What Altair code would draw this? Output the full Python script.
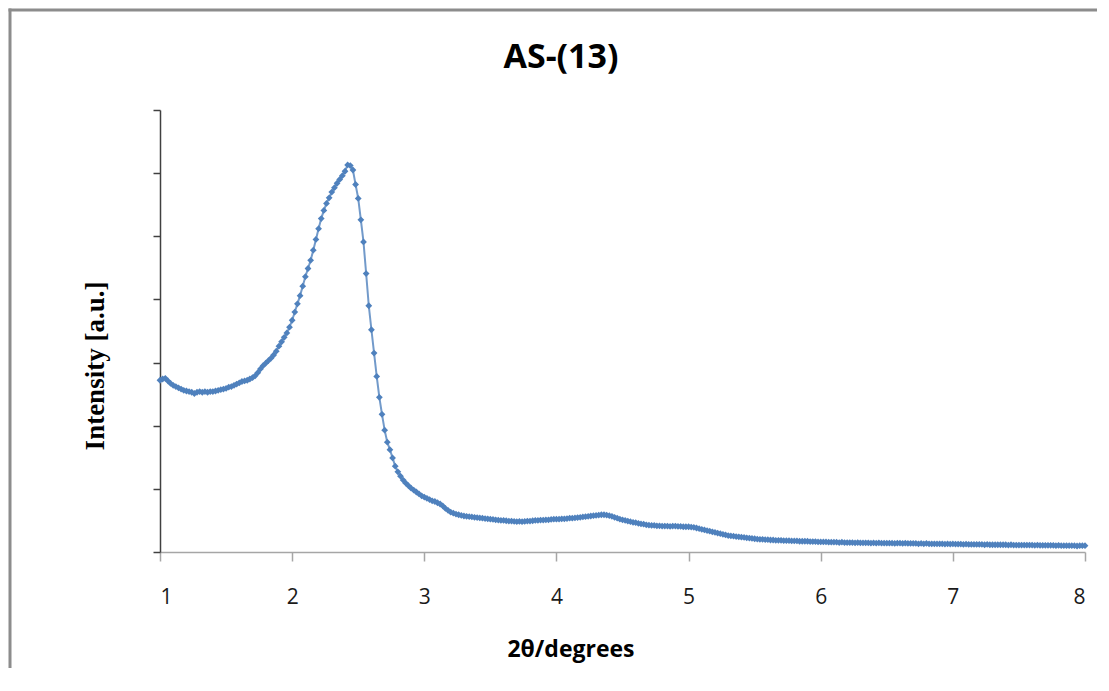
import altair as alt
import pandas as pd

# 2theta sampled every 0.02 degree from 1.00 to 8.00
x_start = 1.00
x_step = 0.02

intensity = [
    2.72, 2.74, 2.75, 2.71, 2.67,
    2.64, 2.62, 2.60, 2.58, 2.56,
    2.55, 2.54, 2.53, 2.51, 2.53,
    2.54, 2.53, 2.54, 2.53, 2.54,
    2.54, 2.55, 2.56, 2.57, 2.58,
    2.59, 2.61, 2.62, 2.64, 2.66,
    2.68, 2.70, 2.71, 2.72, 2.74,
    2.76, 2.79, 2.84, 2.90, 2.95,
    2.99, 3.03, 3.07, 3.12, 3.18,
    3.26, 3.33, 3.40, 3.47, 3.56,
    3.67, 3.80, 3.93, 4.06, 4.21,
    4.36, 4.49, 4.62, 4.78, 4.95,
    5.12, 5.28, 5.41, 5.52, 5.61,
    5.70, 5.77, 5.84, 5.90, 5.96,
    6.03, 6.13, 6.12, 6.05, 5.82,
    5.60, 5.26, 4.91, 4.41, 3.90,
    3.52, 3.15, 2.78, 2.45, 2.18,
    1.93, 1.74, 1.62, 1.49, 1.36,
    1.27, 1.20, 1.14, 1.09, 1.05,
    1.01, 0.98, 0.95, 0.92, 0.89,
    0.87, 0.85, 0.83, 0.81, 0.80,
    0.78, 0.76, 0.73, 0.69, 0.66,
    0.63, 0.615, 0.60, 0.59, 0.58,
    0.57, 0.565, 0.56, 0.555, 0.55,
    0.545, 0.54, 0.535, 0.53, 0.525,
    0.52, 0.515, 0.51, 0.505, 0.50,
    0.50, 0.495, 0.49, 0.49, 0.485,
    0.48, 0.485, 0.48, 0.485, 0.49,
    0.49, 0.495, 0.50, 0.50, 0.505,
    0.505, 0.51, 0.51, 0.515, 0.52,
    0.52, 0.52, 0.525, 0.525, 0.53,
    0.535, 0.535, 0.54, 0.545, 0.55,
    0.555, 0.56, 0.565, 0.57, 0.575,
    0.58, 0.585, 0.59, 0.59, 0.585,
    0.575, 0.565, 0.55, 0.535, 0.52,
    0.51, 0.50, 0.49, 0.48, 0.47,
    0.465, 0.455, 0.445, 0.44, 0.43,
    0.425, 0.42, 0.42, 0.415, 0.415,
    0.41, 0.41, 0.41, 0.405, 0.41,
    0.41, 0.405, 0.405, 0.40, 0.40,
    0.40, 0.395, 0.39, 0.38, 0.37,
    0.36, 0.35, 0.34, 0.33, 0.32,
    0.31, 0.30, 0.29, 0.28, 0.27,
    0.26, 0.255, 0.25, 0.245, 0.24,
    0.235, 0.23, 0.225, 0.22, 0.215,
    0.21, 0.205, 0.20, 0.20, 0.195,
    0.195, 0.19, 0.19, 0.185, 0.185,
    0.185, 0.18, 0.18, 0.18, 0.175,
    0.175, 0.175, 0.17, 0.17, 0.17,
    0.17, 0.165, 0.165, 0.165, 0.16,
    0.16, 0.16, 0.16, 0.155, 0.155,
    0.155, 0.155, 0.15, 0.155, 0.15,
    0.15, 0.15, 0.15, 0.145, 0.15,
    0.145, 0.145, 0.145, 0.145, 0.14,
    0.145, 0.14, 0.145, 0.14, 0.14,
    0.14, 0.14, 0.14, 0.135, 0.14,
    0.14, 0.135, 0.14, 0.135, 0.135,
    0.135, 0.135, 0.13, 0.135, 0.13,
    0.135, 0.13, 0.13, 0.13, 0.13,
    0.13, 0.13, 0.125, 0.13, 0.125,
    0.128, 0.125, 0.125, 0.125, 0.12,
    0.125, 0.12, 0.12, 0.12, 0.12,
    0.12, 0.12, 0.115, 0.12, 0.115,
    0.115, 0.115, 0.115, 0.115, 0.115,
    0.115, 0.11, 0.115, 0.11, 0.11,
    0.11, 0.11, 0.11, 0.11, 0.11,
    0.11, 0.105, 0.11, 0.105, 0.105,
    0.105, 0.105, 0.105, 0.105, 0.10,
    0.105, 0.10, 0.10, 0.10, 0.10,
    0.10, 0.10, 0.095, 0.10, 0.10,
    0.10,
]

x_ticks = [1, 2, 3, 4, 5, 6, 7, 8]
y_ticks = [0, 1, 2, 3, 4, 5, 6, 7]

title_text = "AS-(13)"
x_title = "2θ/degrees"
y_title = "Intensity [a.u.]"

theta = [round(x_start + x_step * i, 2) for i in range(len(intensity))]
df = pd.DataFrame({"theta": theta, "intensity": intensity})

COLOR = "#4F81BD"
W, H = 925, 442

x_enc = alt.X("theta:Q", scale=alt.Scale(domain=[1, 8], nice=False),
              axis=alt.Axis(values=x_ticks, title=None, grid=False, format="d",
                            labelFont="Open Sans", labelFontSize=21, labelColor="#1a1a1a",
                            labelPadding=25, tickSize=9, tickColor="#a6a6a6",
                            domainColor="#a6a6a6", domainWidth=1.5, tickWidth=1.5))
y_enc = alt.Y("intensity:Q", scale=alt.Scale(domain=[0, 7], nice=False),
              axis=alt.Axis(values=y_ticks, title=None, grid=False, labels=False,
                            tickSize=7, tickColor="#404040", domainColor="#404040",
                            domainWidth=1.5, tickWidth=1.5))

base = alt.Chart(df)
line = base.mark_line(color=COLOR, strokeWidth=2, opacity=0.8).encode(x=x_enc, y=y_enc)
pts = base.mark_point(shape="diamond", filled=True, size=46, color=COLOR, opacity=1).encode(
    x="theta:Q", y="intensity:Q")

one = pd.DataFrame({"t": [0]})
title = alt.Chart(pd.DataFrame({"t": [title_text]})).mark_text(
    font="Open Sans", fontSize=34, fontWeight="bold", color="#000000", baseline="middle"
).encode(text="t:N", x=alt.value(401), y=alt.value(-52))

xt = alt.Chart(pd.DataFrame({"t": [x_title]})).mark_text(
    font="Open Sans", fontSize=23, fontWeight="bold", color="#000000", baseline="middle"
).encode(text="t:N", x=alt.value(411), y=alt.value(540))

yt = alt.Chart(pd.DataFrame({"t": [y_title]})).mark_text(
    font="Liberation Serif", fontSize=27, fontWeight="bold", color="#000000",
    baseline="middle", angle=270
).encode(text="t:N", x=alt.value(-64), y=alt.value(256))

left_border = alt.Chart(one).mark_rect(fill="#8c8c8c", strokeWidth=0).encode(
    x=alt.value(-151.5), x2=alt.value(-148.5), y=alt.value(-101.5), y2=alt.value(900))
top_border = alt.Chart(one).mark_rect(fill="#8c8c8c", strokeWidth=0).encode(
    x=alt.value(-151.5), x2=alt.value(1400), y=alt.value(-101.5), y2=alt.value(-98.5))

chart = alt.layer(left_border, top_border, line, pts, title, xt, yt).properties(
    width=W, height=H,
    autosize=alt.AutoSizeParams(type="none"),
    padding={"left": 152, "top": 102, "right": 12, "bottom": 116},
).configure_view(stroke=None)

chart.save("out.html", embed_options={"renderer": "svg", "actions": False})
